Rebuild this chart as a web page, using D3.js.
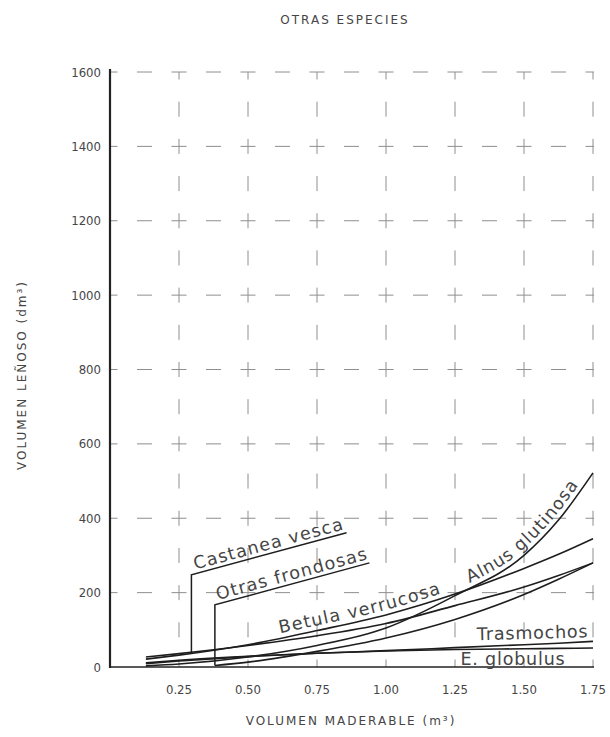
<!DOCTYPE html>
<html><head><meta charset="utf-8">
<script src="https://cdn.jsdelivr.net/npm/d3@7"></script>
<style>body{margin:0;background:#fff}svg{display:block}text{font-family:"DejaVu Sans",sans-serif;fill:#454545}</style>
</head><body>
<svg id="c" width="610" height="737"></svg>
<script>
// ---- data ----
const xTicks = [0.25, 0.50, 0.75, 1.00, 1.25, 1.50, 1.75];
const xTickLabels = ["0.25", "0.50", "0.75", "1.00", "1.25", "1.50", "1.75"];
const yTicks = [0, 200, 400, 600, 800, 1000, 1200, 1400, 1600];
const xs = [0.13, 0.25, 0.5, 0.75, 1.0, 1.25, 1.5, 1.625, 1.75];
const castanea = [27, 36, 58, 84, 117, 165, 215, 246, 280];
const betula = [21, 32, 60, 98, 140, 196, 265, 303, 345];
const alnus = [3, 8, 27, 58, 105, 192, 300, 395, 522];
const trasmochos = [11, 18, 29, 37, 44, 52, 60, 64, 69];
const globulus = [9, 16, 28, 37, 43, 47, 49, 50, 51];
const xsOtras = [0.38, 0.5, 0.75, 1.0, 1.25, 1.5, 1.625, 1.75];
const otras = [4, 13, 42, 78, 128, 195, 236, 280];
const castaneaLeader = [[0.295, 40], [0.295, 248], [0.857, 361]];
const otrasLeader = [[0.38, 4], [0.38, 167], [0.94, 280]];

const svg = d3.select("#c");
const x = d3.scaleLinear().domain([0, 1.75]).range([110, 593]);
const y = d3.scaleLinear().domain([0, 1600]).range([667, 72]);

// grid (dashes centred on grid crossings and mid-points, forming small crosses)
const hp = (x(0.25) - x(0)) / 2, vp = (y(0) - y(200)) / 2;
const g = svg.append("g").attr("stroke", "#8e8e8e").attr("stroke-width", 1);
g.selectAll(".hg").data(yTicks.slice(1)).join("line")
  .attr("x1", x(0)).attr("x2", x(1.75) + 1).attr("y1", d => y(d)).attr("y2", d => y(d))
  .attr("stroke-dasharray", `15,${hp - 15}`).attr("stroke-dashoffset", 7.5);
g.selectAll(".vg").data(xTicks).join("line")
  .attr("x1", d => x(d)).attr("x2", d => x(d)).attr("y1", y(1600)).attr("y2", y(0))
  .attr("stroke-dasharray", `15,${vp - 15}`).attr("stroke-dashoffset", 7.5);

// axes
svg.append("line").attr("x1", x(0)).attr("x2", x(0)).attr("y1", y(1600) - 3).attr("y2", y(0) + 1)
  .attr("stroke", "#222").attr("stroke-width", 2.2);
svg.append("line").attr("x1", x(0)).attr("x2", x(1.75) + 1).attr("y1", y(0)).attr("y2", y(0))
  .attr("stroke", "#222").attr("stroke-width", 1.6);

const tickFont = '"Liberation Sans Narrow","DejaVu Sans Condensed",sans-serif';
svg.selectAll(".yt").data(yTicks).join("text")
  .attr("x", x(0) - 9).attr("y", d => y(d) + 4.5).attr("text-anchor", "end")
  .style("font-family", tickFont).attr("font-size", 13).text(d => d);
svg.selectAll(".xt").data(xTicks).join("text")
  .attr("x", d => x(d)).attr("y", y(0) + 27).attr("text-anchor", "middle")
  .style("font-family", tickFont).attr("font-size", 13).text((d, i) => xTickLabels[i]);

svg.append("text").attr("x", 345).attr("y", 24).attr("text-anchor", "middle")
  .attr("font-size", 12).attr("letter-spacing", 2).text("OTRAS ESPECIES");
svg.append("text").attr("x", 351).attr("y", 725).attr("text-anchor", "middle")
  .attr("font-size", 12).attr("letter-spacing", 2).text("VOLUMEN MADERABLE (m³)");
svg.append("text").attr("transform", "translate(26,375) rotate(-90)").attr("text-anchor", "middle")
  .attr("font-size", 12).attr("letter-spacing", 2).text("VOLUMEN LEÑOSO (dm³)");

// curves
const line = d3.line().x(d => x(d[0])).y(d => y(d[1])).curve(d3.curveMonotoneX);
const series = [
  {xs: xs, v: castanea}, {xs: xs, v: betula}, {xs: xs, v: alnus},
  {xs: xs, v: trasmochos}, {xs: xs, v: globulus}, {xs: xsOtras, v: otras}
];
svg.selectAll(".s").data(series).join("path")
  .attr("d", s => line(s.xs.map((a, i) => [a, s.v[i]])))
  .attr("fill", "none").attr("stroke", "#1e1e1e").attr("stroke-width", 1.6);

const leader = d3.line().x(d => x(d[0])).y(d => y(d[1]));
[castaneaLeader, otrasLeader].forEach(L => {
  svg.append("path").attr("d", leader(L)).attr("fill", "none").attr("stroke", "#1e1e1e").attr("stroke-width", 1.5);
});

function angle(p, q) {
  return Math.atan2(y(q[1]) - y(p[1]), x(q[0]) - x(p[0])) * 180 / Math.PI;
}
function slantText(txt, L, off, size) {
  const a = angle(L[1], L[2]);
  svg.append("text").attr("font-size", size).attr("letter-spacing", 1.2)
    .attr("transform", `translate(${x(L[1][0])},${y(L[1][1])}) rotate(${a}) translate(${off},-4)`)
    .text(txt);
}
slantText("Castanea vesca", castaneaLeader, 5, 17.5);
slantText("Otras frondosas", otrasLeader, 4, 17.5);

// text along curves
const defs = svg.append("defs");
function curveLabel(id, xsArr, vals, x0, txt, dy, size) {
  const pts = xsArr.map((a, i) => [a, vals[i]]);
  defs.append("path").attr("id", id).attr("d", line(pts));
  const p = document.createElementNS("http://www.w3.org/2000/svg", "path");
  p.setAttribute("d", line(pts));
  const total = p.getTotalLength();
  let lo = 0, hi = total;
  for (let k = 0; k < 30; k++) { const m = (lo + hi) / 2; if (p.getPointAtLength(m).x < x(x0)) lo = m; else hi = m; }
  svg.append("text").attr("font-size", size).attr("letter-spacing", 1.2).attr("dy", dy)
    .append("textPath").attr("href", "#" + id).attr("startOffset", lo).text(txt);
}
curveLabel("pb", xs, betula, 0.62, "Betula verrucosa", -5, 17.5);
curveLabel("pa", xs, alnus, 1.31, "Alnus glutinosa", -5, 17.5);

svg.append("text").attr("x", x(1.33)).attr("y", y(72)).attr("font-size", 17.5).attr("letter-spacing", 0.8)
  .attr("transform", `rotate(-1.5,${x(1.33)},${y(72)})`).text("Trasmochos");
svg.append("text").attr("x", x(1.27)).attr("y", y(6)).attr("font-size", 17.5).attr("letter-spacing", 0.8)
  .text("E. globulus");
</script>
</body></html>
